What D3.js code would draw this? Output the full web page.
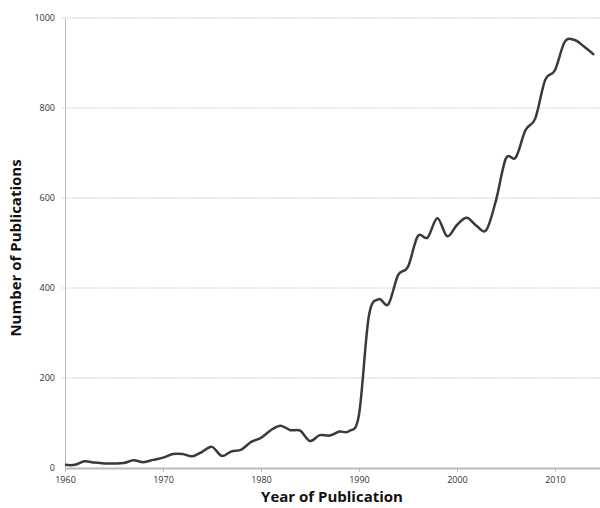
<!DOCTYPE html>
<html><head><meta charset="utf-8">
<script src="https://cdn.jsdelivr.net/npm/d3@7"></script>
<style>body{margin:0;background:#fff}svg{display:block}</style>
</head><body>
<svg id="chart" width="600" height="508"></svg>
<script>
const years = d3.range(1960, 2015);
const publications = [7,7,15,12,10,10,11,17,13,18,23,31,31,26,36,47,27,37,41,58,67,84,94,84,83,60,73,72,81,82,118,336,375,364,429,447,515,512,555,515,540,556,538,529,596,688,690,751,777,862,884,947,951,936,918];
const xTicks = [1960,1970,1980,1990,2000,2010];
const yTicks = [0,200,400,600,800,1000];

const svg = d3.select("#chart");
const x = d3.scaleLinear().domain([1960, 2014.6]).range([65, 600]);
const y = d3.scaleLinear().domain([0, 1000]).range([468, 18]);

// gridlines
svg.append("g").selectAll("line").data(yTicks.filter(d=>d>0)).join("line")
  .attr("x1", 62).attr("x2", 600).attr("y1", d=>y(d)).attr("y2", d=>y(d))
  .attr("stroke", "#c8c8c8").attr("stroke-width", 1).attr("stroke-dasharray", "1.5,1");

// y axis
const yAxis = svg.append("g").attr("transform","translate(65,0)")
  .call(d3.axisLeft(y).tickValues(yTicks).tickFormat(d3.format("d")).tickSize(0).tickSizeOuter(0).tickPadding(10));
yAxis.select(".domain").attr("stroke","#bbb");
yAxis.selectAll("text").attr("font-family","'Open Sans', sans-serif").attr("font-size","9px").attr("fill","#333");

// x axis
const xAxis = svg.append("g").attr("transform","translate(0,468)")
  .call(d3.axisBottom(x).tickValues(xTicks).tickFormat(d3.format("d")).tickSize(4).tickSizeOuter(0).tickPadding(5));
xAxis.select(".domain").attr("stroke","#bbb").attr("stroke-width",2);
xAxis.selectAll(".tick line").attr("stroke","#bbb");
xAxis.selectAll("text").attr("font-family","'Open Sans', sans-serif").attr("font-size","9px").attr("fill","#333");

// line
const line = d3.line().x((d,i)=>x(years[i])).y(d=>y(d)).curve(d3.curveCardinal.tension(0));
svg.append("path").datum(publications).attr("d", line)
  .attr("fill","none").attr("stroke","#3a3a3a").attr("stroke-width",2.5).attr("stroke-linejoin","round");

// labels
svg.append("text").attr("x", 332).attr("y", 502).attr("text-anchor","middle")
  .attr("font-family","'Open Sans', sans-serif").attr("font-weight","bold").attr("font-size","15px").attr("fill","#111")
  .text("Year of Publication");
svg.append("text").attr("transform","translate(21,248) rotate(-90)").attr("text-anchor","middle")
  .attr("font-family","'Open Sans', sans-serif").attr("font-weight","bold").attr("font-size","15px").attr("fill","#111")
  .text("Number of Publications");
</script>
</body></html>
